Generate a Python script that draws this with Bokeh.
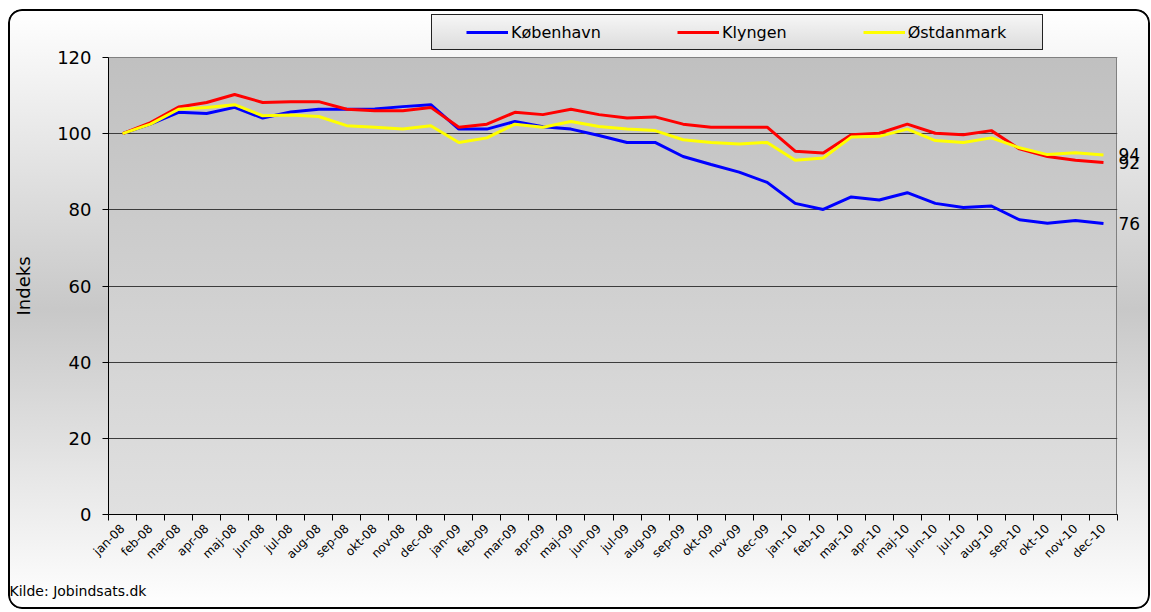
import math
from bokeh.plotting import figure
from bokeh.models import (Range1d, FixedTicker, Legend, LegendItem, LinearAxis, Title, Grid)
from bokeh.embed import file_html
from bokeh.resources import INLINE

# ---------------- data ----------------
months = ["jan-08", "feb-08", "mar-08", "apr-08", "maj-08", "jun-08", "jul-08", "aug-08",
          "sep-08", "okt-08", "nov-08", "dec-08",
          "jan-09", "feb-09", "mar-09", "apr-09", "maj-09", "jun-09", "jul-09", "aug-09",
          "sep-09", "okt-09", "nov-09", "dec-09",
          "jan-10", "feb-10", "mar-10", "apr-10", "maj-10", "jun-10", "jul-10", "aug-10",
          "sep-10", "okt-10", "nov-10", "dec-10"]

kobenhavn = [100, 102.5, 105.6, 105.3, 106.9, 104.1, 105.7, 106.4, 106.4, 106.5, 107.1, 107.6,
             101.2, 101.2, 103.2, 101.8, 101.2, 99.5, 97.7, 97.7, 94.0, 91.9, 89.9, 87.2,
             81.7, 80.1, 83.4, 82.6, 84.5, 81.7, 80.6, 81.0, 77.4, 76.5, 77.2, 76.4]
klyngen = [100, 102.9, 107.0, 108.2, 110.3, 108.2, 108.4, 108.4, 106.4, 106.0, 106.0, 106.9,
           101.7, 102.5, 105.6, 105.0, 106.4, 105.0, 104.1, 104.4, 102.5, 101.7, 101.7, 101.7,
           95.4, 94.9, 99.7, 100.1, 102.5, 100.1, 99.7, 100.8, 96.0, 94.0, 93.0, 92.4]
ostdanmark = [100, 102.5, 106.4, 106.9, 107.6, 104.7, 104.9, 104.5, 102.1, 101.7, 101.2, 102.1,
              97.7, 98.9, 102.5, 101.7, 103.2, 101.9, 101.2, 100.8, 98.4, 97.7, 97.3, 97.7,
              93.0, 93.6, 99.1, 99.3, 101.2, 98.2, 97.7, 98.9, 96.3, 94.5, 95.0, 94.4]

series_names = ["København", "Klyngen", "Østdanmark"]
series_values = [kobenhavn, klyngen, ostdanmark]
series_colors = ["#0000ff", "#ff0000", "#ffff00"]

y_ticks = [0, 20, 40, 60, 80, 100, 120]
y_axis_title = "Indeks"
source_note = "Kilde: Jobindsats.dk"

# ---------------- layout (pixels) ----------------
FONT = "DejaVu Sans"
W, H = 1142, 600
ML, MR, MB = 100, 33, 95
MT = 5                      # frame reaches up to the legend row
PLOT_TOP = 48               # y pixel of the value 120 line
FW = W - ML - MR
FRAME_H = H - MT - MB
PA_H = H - MB - PLOT_TOP    # plot-area height (0..120)
y_top = y_ticks[-1] * FRAME_H / PA_H

xs = list(range(len(months)))

p = figure(width=W, height=H, output_backend="svg", toolbar_location=None,
           x_range=Range1d(-0.5, len(months) - 0.5), y_range=Range1d(y_ticks[0], y_top),
           min_border_left=ML, min_border_right=MR, min_border_top=MT, min_border_bottom=MB)

p.border_fill_color = None
p.background_fill_color = None
p.outline_line_color = None

# backgrounds (outer gradient, plot-area gradient + right border, legend box) via CSS
lx, ly, lw, lh = 423, 5, 612, 36
p.styles = {
    "margin-left": "8px",
    "margin-top": "9px",
    "background": (
        f"linear-gradient(to bottom, #f6f6f6, #dcdcdc) {lx+1}px {ly+1}px / {lw-2}px {lh-2}px no-repeat, "
        f"linear-gradient(#222222, #222222) {lx}px {ly}px / {lw}px {lh}px no-repeat, "
        f"linear-gradient(#808080, #808080) {ML+FW-1}px {PLOT_TOP}px / 1px {PA_H}px no-repeat, "
        f"linear-gradient(to bottom, #c0c0c0, #e0e0e0) {ML}px {PLOT_TOP}px / {FW}px {PA_H}px no-repeat, "
        "linear-gradient(to bottom, #ffffff 0%, #c8c8c8 50%, #ffffff 100%)"
    ),
    "box-shadow": "inset 0 0 0 2px #000000",
    "border-radius": "14px",
}

# x axis: labels at month positions, boundary ticks as minor ticks
p.xaxis.ticker = FixedTicker(ticks=xs, minor_ticks=[i - 0.5 for i in range(len(months) + 1)])
p.xaxis.major_label_overrides = {i: m for i, m in enumerate(months)}
p.xaxis.major_label_orientation = math.pi / 4
p.xaxis.major_tick_out = 0
p.xaxis.major_tick_in = 0
p.xaxis.minor_tick_out = 6
p.xaxis.minor_tick_in = 0
p.xaxis.minor_tick_line_color = "#000000"
p.xaxis.major_label_text_font = FONT
p.xaxis.major_label_text_font_size = "12px"
p.xaxis.major_label_text_color = "#000000"
p.xaxis.major_label_standoff = 6
p.xaxis.axis_line_color = "#000000"

p.yaxis.ticker = FixedTicker(ticks=y_ticks)
p.yaxis.bounds = (y_ticks[0], y_ticks[-1])
p.yaxis.major_tick_out = 6
p.yaxis.major_tick_in = 0
p.yaxis.minor_tick_out = 0
p.yaxis.major_tick_line_color = "#000000"
p.yaxis.major_label_text_font = FONT
p.yaxis.major_label_text_font_size = "18px"
p.yaxis.major_label_text_color = "#000000"
p.yaxis.major_label_standoff = 11
p.yaxis.axis_line_color = "#000000"

# y-axis title: an outer left axis carrying one label at the middle of the 0..120 span
mid = (y_ticks[0] + y_ticks[-1]) / 2
title_axis = LinearAxis(ticker=FixedTicker(ticks=[mid]),
                        major_label_overrides={mid: y_axis_title},
                        major_label_orientation="vertical",
                        major_tick_out=0, major_tick_in=0, minor_tick_out=0, minor_tick_in=0,
                        axis_line_color=None, major_label_standoff=21,
                        major_label_text_font=FONT, major_label_text_font_size="18px",
                        major_label_text_color="#000000")
p.add_layout(title_axis, "left")

p.xgrid.visible = False
p.ygrid.ticker = FixedTicker(ticks=y_ticks[1:-1])
p.ygrid.grid_line_color = "#3c3c3c"
p.ygrid.grid_line_width = 1
p.add_layout(Grid(dimension=1, ticker=FixedTicker(ticks=[y_ticks[-1]]),
                  grid_line_color="#808080", grid_line_width=1))

# lines
renderers = []
for name, vals, col in zip(series_names, series_values, series_colors):
    r = p.line(xs, vals, line_color=col, line_width=3)
    renderers.append(r)

# end-value labels on a right-hand axis
last_vals = [vals[-1] for vals in series_values]
end_axis = LinearAxis(ticker=FixedTicker(ticks=last_vals),
                      major_label_overrides={v: f"{round(v)}" for v in last_vals},
                      major_tick_out=0, major_tick_in=0, minor_tick_out=0, minor_tick_in=0,
                      axis_line_color=None, major_label_standoff=1,
                      major_label_text_font=FONT, major_label_text_font_size="17px",
                      major_label_text_color="#000000")
p.add_layout(end_axis, "right")

# legend (box drawn in CSS above)
leg_h = 36
legend = Legend(items=[LegendItem(label=n, renderers=[r]) for n, r in zip(series_names, renderers)],
                orientation="horizontal", location=(350, FRAME_H - leg_h),
                padding=8, spacing=76, margin=0,
                glyph_width=42, glyph_height=20, label_standoff=3, label_height=20,
                background_fill_alpha=0, border_line_alpha=0,
                label_text_font=FONT, label_text_font_size="16px", label_text_color="#000000")
p.add_layout(legend, "center")

# source note
p.add_layout(Title(text=source_note, align="left", offset=-99, standoff=22,
                   text_font=FONT, text_font_size="14px", text_font_style="normal",
                   text_color="#000000"), "below")

open("out.html", "w").write(file_html(p, INLINE))
